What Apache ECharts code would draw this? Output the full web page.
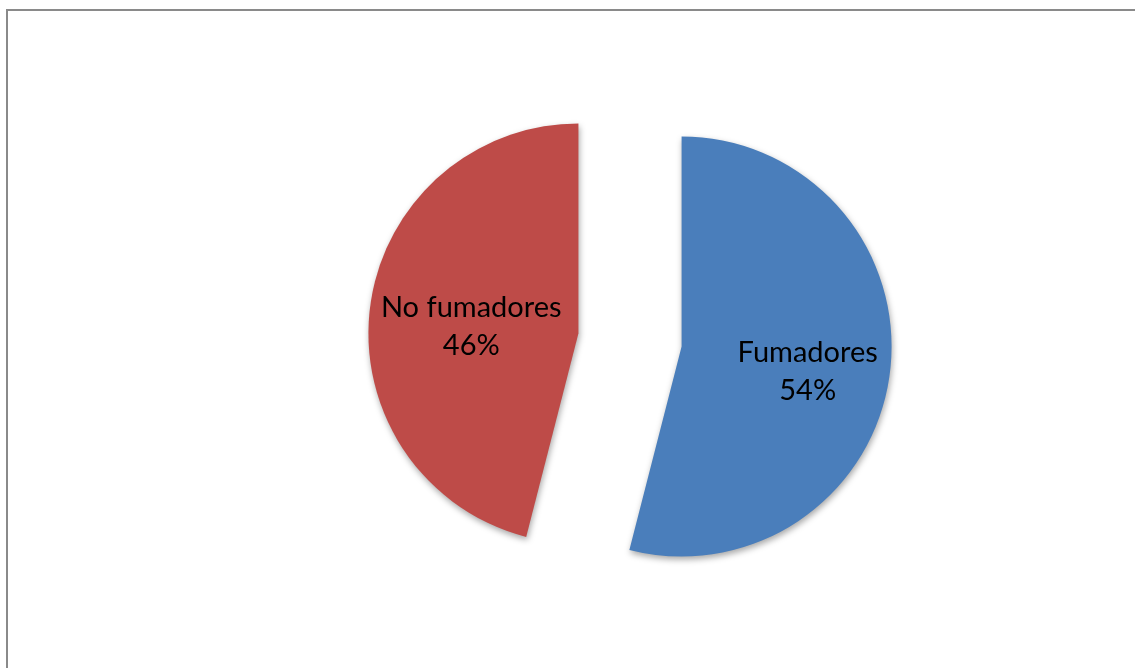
<!DOCTYPE html>
<html><head><meta charset="utf-8">
<script src="https://cdn.jsdelivr.net/npm/echarts@6/dist/echarts.min.js"></script>
<style>html,body{margin:0;padding:0;background:#fff}#c{width:1135px;height:668px}</style>
</head><body><div id="c"></div>
<script>
const categories = ['Fumadores', 'No fumadores'];
const values = [54, 46];
const colors = ['#4A7EBB', '#BE4B48'];
const spacerHeights = [24, 14];
const leftPads = [38, 0];

const chart = echarts.init(document.getElementById('c'));
chart.setOption({
  animation: false,
  graphic: [{type:'rect', shape:{x:7, y:10, width:1200, height:720}, style:{fill:'none', stroke:'#8a8a8a', lineWidth:2}}],
  series: [{
    type: 'pie',
    center: [630, 340],
    radius: 210,
    startAngle: 90,
    clockwise: true,
    selectedMode: 'multiple',
    selectedOffset: 52,
    label: {
      position: 'inside',
      color: '#000',
      fontSize: 29,
      lineHeight: 38,
      fontFamily: 'Lato, "Open Sans", sans-serif'
    },
    itemStyle: {shadowBlur: 6, shadowColor: 'rgba(0,0,0,0.35)', shadowOffsetY: 3, shadowOffsetX: 1},
    emphasis: {disabled: true},
    data: categories.map((c, i) => ({
      name: c, value: values[i], selected: true,
      itemStyle: {color: colors[i]},
      label: {
        formatter: '{s| }\n{t|{b}}\n{t|{d}%}',
        padding: [0, 0, 0, leftPads[i]],
        rich: {
          s: {lineHeight: spacerHeights[i], fontSize: 4},
          t: {fontSize: 29, lineHeight: 38, color: '#000', fontFamily: 'Lato, "Open Sans", sans-serif'}
        }
      }
    }))
  }]
});
</script></body></html>
